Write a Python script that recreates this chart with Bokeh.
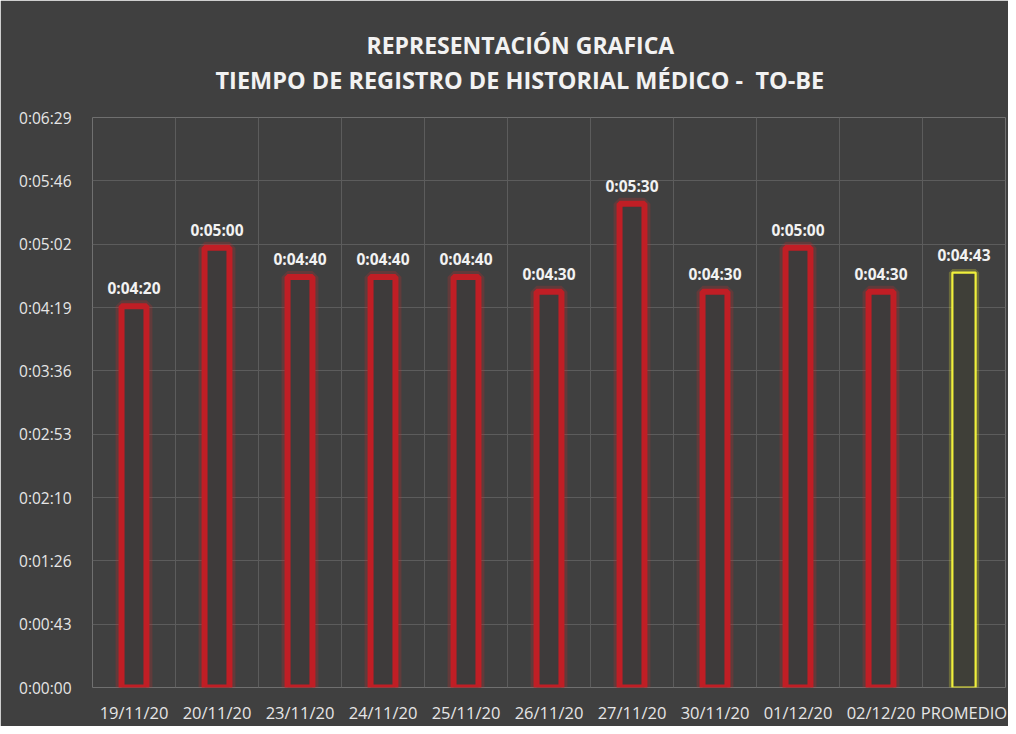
from bokeh.plotting import figure
from bokeh.models import (ColumnDataSource, Range1d, FixedTicker, CustomJSTickFormatter,
                          Grid, Title)
from bokeh.core.properties import value
from bokeh.embed import file_html
from bokeh.resources import INLINE

# ---- data ----
categories = ["19/11/20", "20/11/20", "23/11/20", "24/11/20", "25/11/20",
              "26/11/20", "27/11/20", "30/11/20", "01/12/20", "02/12/20"]
seconds = [260, 300, 280, 280, 280, 270, 330, 270, 300, 270]
avg_label = "PROMEDIO"
avg_seconds = 283
title_line1 = "REPRESENTACIÓN GRAFICA"
title_line2 = "TIEMPO DE REGISTRO DE HISTORIAL MÉDICO -\u00a0 TO-BE"
y_step = 43.2      # seconds between y ticks (0.0005 day)
y_ticks_count = 9


def fmt(s):
    s = int(round(s))
    return f"{s // 3600}:{(s % 3600) // 60:02d}:{s % 60:02d}"


all_labels = categories + [avg_label]
n = len(all_labels)
BG = "#404040"
FONT = "Open Sans"

red_src = ColumnDataSource(dict(
    x=[i + 0.5 for i in range(len(categories))],
    top=seconds,
    label=[fmt(v) for v in seconds],
))
avg_src = ColumnDataSource(dict(
    x=[len(categories) + 0.5],
    top=[avg_seconds],
    label=[fmt(avg_seconds)],
))

p = figure(width=1008, height=726, output_backend="svg", toolbar_location=None,
           x_range=Range1d(0, n), y_range=Range1d(0, y_step * y_ticks_count),
           background_fill_color=BG, border_fill_color=BG, outline_line_color=None,
           min_border_left=92, min_border_right=3, min_border_bottom=35, min_border_top=117)
p.title.visible = False

# titles
p.add_layout(Title(text=title_line2, align="left", offset=123, text_color="#f2f2f2",
                   text_font=FONT, text_font_size="23.5px", text_font_style="bold",
                   standoff=43), "above")
p.add_layout(Title(text=title_line1, align="left", offset=274, text_color="#f2f2f2",
                   text_font=FONT, text_font_size="23px", text_font_style="bold",
                   standoff=-40), "above")

# grids
p.xgrid.visible = False
p.ygrid.ticker = FixedTicker(ticks=[round(k * y_step, 1) for k in range(y_ticks_count + 1)])
p.ygrid.grid_line_color = "#5c5c5c"
p.ygrid.grid_line_width = 1
vgrid = Grid(dimension=0, ticker=FixedTicker(ticks=list(range(n + 1))),
             grid_line_color="#5c5c5c", grid_line_width=1)
p.add_layout(vgrid)

# axes
p.yaxis.ticker = FixedTicker(ticks=[round(k * y_step, 1) for k in range(y_ticks_count + 1)])
p.yaxis.formatter = CustomJSTickFormatter(code="""
    const s = Math.round(tick);
    const h = Math.floor(s / 3600), m = Math.floor((s % 3600) / 60), ss = s % 60;
    return h + ':' + String(m).padStart(2, '0') + ':' + String(ss).padStart(2, '0');
""")
p.xaxis.ticker = FixedTicker(ticks=[i + 0.5 for i in range(n)])
p.xaxis.formatter = CustomJSTickFormatter(args=dict(labels=all_labels),
                                          code="return labels[Math.floor(tick)];")
for ax in (p.xaxis, p.yaxis):
    ax.axis_line_color = None
    ax.major_tick_line_color = None
    ax.minor_tick_line_color = None
    ax.major_label_text_color = "#e6e6e6"
    ax.major_label_text_font = FONT
p.yaxis.major_label_text_font_size = "15.5px"
p.xaxis.major_label_text_font_size = "16.5px"
p.yaxis.major_label_standoff = 15
p.xaxis.major_label_standoff = 7

# red bars with glow
p.vbar(x="x", top="top", bottom=0, width=0.3, source=red_src, fill_color=None,
       line_color="#d42a2a", line_alpha=0.22, line_width=12)
p.vbar(x="x", top="top", bottom=0, width=0.3, source=red_src, fill_color="#3e3b3b",
       line_color="#c01e25", line_width=6)

# average bar with glow
p.vbar(x="x", top="top", bottom=0, width=0.28, source=avg_src, fill_color=None,
       line_color="#e8e830", line_alpha=0.25, line_width=7)
p.vbar(x="x", top="top", bottom=0, width=0.28, source=avg_src, fill_color="#3f3f38",
       line_color="#f0f03c", line_width=2.2)

# value labels
for src in (red_src, avg_src):
    p.text(x="x", y="top", text="label", source=src, text_align="center",
           text_baseline="bottom", y_offset=-7, text_color="#f2f2f2",
           text_font=value(FONT), text_font_size="15.5px", text_font_style="bold")

open("out.html", "w").write(file_html(p, INLINE))
